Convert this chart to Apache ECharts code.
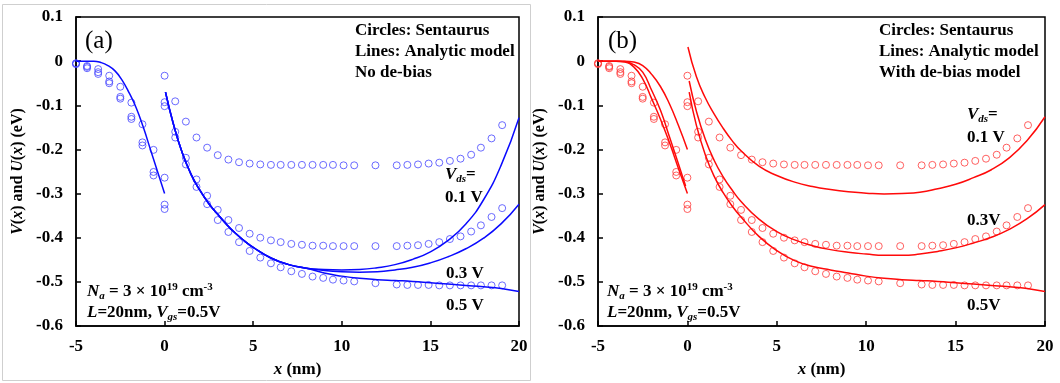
<!DOCTYPE html>
<html>
<head>
<meta charset="utf-8">
<script src="https://cdn.jsdelivr.net/npm/echarts/dist/echarts.min.js"></script>
<style>
html,body{margin:0;padding:0;background:#fff;}
#c{width:1060px;height:383px;}
</style>
</head>
<body>
<div id="c"></div>
<script>
// ---- Sentaurus (circles), source side ----
const srcX = [-5, -4.375, -3.75, -3.125, -2.5, -1.875, -1.25, -0.625, 0];
const circSrc01 = [-0.005, -0.011, -0.018, -0.033, -0.058, -0.094, -0.143, -0.201, -0.264];
const circSrc03 = [-0.005, -0.013, -0.025, -0.046, -0.081, -0.126, -0.184, -0.251, -0.325];
const circSrc05 = [-0.007, -0.016, -0.029, -0.050, -0.085, -0.131, -0.191, -0.259, -0.335];

// ---- Sentaurus (circles), drain side ----
const drainX = [0, 0.6, 1.2, 1.8, 2.4, 3.0, 3.6, 4.2, 4.8, 5.4, 6.0, 6.55, 7.15, 7.75, 8.35, 8.95, 9.5, 10.1, 10.7, 11.9, 13.1, 13.7, 14.3, 14.9, 15.5, 16.1, 16.7, 17.3, 17.85, 18.45, 19.05];
const circDrain01 = [-0.033, -0.091, -0.137, -0.173, -0.196, -0.213, -0.223, -0.229, -0.232, -0.234, -0.235, -0.235, -0.235, -0.235, -0.235, -0.235, -0.235, -0.236, -0.236, -0.236, -0.236, -0.235, -0.234, -0.232, -0.230, -0.226, -0.221, -0.212, -0.196, -0.175, -0.145];
const circDrain03 = [-0.093, -0.160, -0.219, -0.268, -0.305, -0.337, -0.360, -0.378, -0.391, -0.400, -0.406, -0.410, -0.414, -0.416, -0.418, -0.418, -0.419, -0.419, -0.419, -0.419, -0.419, -0.418, -0.417, -0.414, -0.410, -0.403, -0.397, -0.386, -0.372, -0.353, -0.333];
const circDrain05 = [-0.102, -0.173, -0.234, -0.285, -0.324, -0.360, -0.387, -0.410, -0.430, -0.445, -0.458, -0.467, -0.476, -0.482, -0.488, -0.491, -0.495, -0.497, -0.499, -0.503, -0.506, -0.507, -0.507, -0.507, -0.508, -0.508, -0.508, -0.508, -0.508, -0.508, -0.508];

// ---- Analytic model, panel (a): no de-bias ----
const aSrcLine = [[-5, 0], [-4.5, 0], [-4, 0], [-3.6, -0.003], [-3.2, -0.010], [-2.8, -0.022], [-2.4, -0.043], [-2, -0.072], [-1.6, -0.106], [-1.2, -0.150], [-0.8, -0.200], [-0.4, -0.250], [0, -0.300]];
const aDrainCommon = [[0.05, -0.070], [0.5, -0.143], [1, -0.208], [1.5, -0.257], [2, -0.293], [2.5, -0.323], [3, -0.347], [3.5, -0.370], [4, -0.390], [4.5, -0.407], [5, -0.422], [6, -0.446], [7, -0.461], [8, -0.469]];
const aTail01 = [[9, -0.472], [10, -0.473], [11, -0.472], [12, -0.468], [13, -0.461], [14, -0.449], [15, -0.432], [16, -0.406], [17, -0.369], [18, -0.314], [19, -0.235], [20, -0.128]];
const aTail03 = [[9, -0.474], [10, -0.477], [11, -0.478], [12, -0.477], [13, -0.473], [14, -0.467], [15, -0.457], [16, -0.443], [17, -0.425], [18, -0.401], [19, -0.368], [20, -0.324]];
const aTail05 = [[9, -0.480], [10, -0.487], [11, -0.492], [12, -0.495], [13, -0.497], [14, -0.499], [15, -0.502], [16, -0.505], [17, -0.508], [18, -0.511], [19, -0.515], [20, -0.522]];

// ---- Analytic model, panel (b): with de-bias ----
const bSrc01 = [[-5, 0], [-4, 0], [-3.5, 0], [-3, -0.002], [-2.5, -0.010], [-2, -0.030], [-1.5, -0.058], [-1, -0.097], [-0.5, -0.146], [0, -0.200]];
const bSrc03 = [[-5, 0], [-4, 0], [-3.5, -0.001], [-3, -0.008], [-2.5, -0.025], [-2, -0.066], [-1.5, -0.112], [-1, -0.172], [-0.5, -0.233], [-0.1, -0.283]];
const bSrc05 = [[-5, 0], [-4, 0], [-3.5, -0.002], [-3, -0.013], [-2.5, -0.040], [-2, -0.085], [-1.5, -0.132], [-1, -0.185], [-0.5, -0.243], [0, -0.300]];
const bDrain01 = [[0.03, 0.032], [0.5, -0.035], [1, -0.083], [1.5, -0.120], [2, -0.152], [2.5, -0.180], [3, -0.203], [4, -0.238], [5, -0.259], [6, -0.274], [7, -0.284], [8, -0.291], [9, -0.296], [10, -0.299], [11, -0.301], [12, -0.300], [13, -0.297], [14, -0.289], [15, -0.279], [16, -0.264], [17, -0.246], [18, -0.219], [19, -0.180], [20, -0.126]];
const bDrain03 = [[0.1, -0.045], [0.5, -0.113], [1, -0.177], [1.5, -0.225], [2, -0.262], [2.5, -0.292], [3, -0.318], [4, -0.358], [5, -0.386], [6, -0.405], [7, -0.418], [8, -0.427], [9, -0.433], [10, -0.437], [11, -0.440], [12, -0.440], [13, -0.437], [14, -0.431], [15, -0.423], [16, -0.412], [17, -0.399], [18, -0.381], [19, -0.357], [20, -0.325]];
const bDrain05 = [[0.1, -0.070], [0.5, -0.145], [1, -0.212], [1.5, -0.261], [2, -0.298], [2.5, -0.328], [3, -0.353], [4, -0.397], [5, -0.429], [6, -0.452], [7, -0.465], [8, -0.473], [9, -0.480], [10, -0.487], [11, -0.492], [12, -0.495], [13, -0.497], [14, -0.499], [15, -0.502], [16, -0.505], [17, -0.508], [18, -0.511], [19, -0.515], [20, -0.522]];

// ---- axis ticks ----
const xTicks = {min: -5, max: 20, interval: 5};
const yTicks = {min: -0.6, max: 0.1, interval: 0.1};

const FONT = 'Liberation Serif, Times New Roman, serif';
const BLUE_LINE = '#0a0aff', BLUE_CIRC = '#4646ff';
const RED_LINE = '#ff0a0a', RED_CIRC = '#ff3a3a';

const pair = (xs, ys) => xs.map((x, i) => [x, ys[i]]);

const rich = {
  b: {fontFamily: FONT, fontWeight: 'bold', fontSize: 17, color: '#000'},
  i: {fontFamily: FONT, fontWeight: 'bold', fontStyle: 'italic', fontSize: 17, color: '#000'},
  sub: {fontFamily: FONT, fontWeight: 'bold', fontStyle: 'italic', fontSize: 11, color: '#000', padding: [9, 0, 0, 0]},
  sup: {fontFamily: FONT, fontWeight: 'bold', fontSize: 11, color: '#000', padding: [0, 0, 8, 0]}
};
const richAxis = {
  b: {fontFamily: FONT, fontWeight: 'bold', fontSize: 16, color: '#000'},
  i: {fontFamily: FONT, fontWeight: 'bold', fontStyle: 'italic', fontSize: 16, color: '#000'}
};

function xAxisCfg(gi) {
  return {
    gridIndex: gi, type: 'value', min: xTicks.min, max: xTicks.max, interval: xTicks.interval,
    axisLine: {show: true, onZero: false, lineStyle: {color: '#000', width: 1.5}},
    axisTick: {show: true, inside: true, length: 5, lineStyle: {color: '#000', width: 1.5}},
    splitLine: {show: false},
    axisLabel: {fontFamily: FONT, fontWeight: 'bold', fontSize: 17, color: '#000', margin: 12},
    name: '{i|x}{b| (nm)}', nameLocation: 'middle', nameGap: 35,
    nameTextStyle: {rich: rich}
  };
}
function yAxisCfg(gi) {
  return {
    gridIndex: gi, type: 'value', min: yTicks.min, max: yTicks.max, interval: yTicks.interval,
    axisLine: {show: true, onZero: false, lineStyle: {color: '#000', width: 1.5}},
    axisTick: {show: true, inside: true, length: 5, lineStyle: {color: '#000', width: 1.5}},
    splitLine: {show: false},
    axisLabel: {fontFamily: FONT, fontWeight: 'bold', fontSize: 17, color: '#000', margin: 13,
      formatter: v => (Math.abs(v) < 1e-9 ? '0' : v.toFixed(1))},
    name: '{i|V}{b|(}{i|x}{b|) and }{i|U}{b|(}{i|x}{b|) (eV)}', nameLocation: 'middle', nameGap: 50, nameRotate: 90,
    nameTextStyle: {rich: richAxis}
  };
}

function circles(gi, data, color) {
  return {type: 'scatter', xAxisIndex: gi, yAxisIndex: gi, data: data, symbol: 'circle', symbolSize: 7,
    itemStyle: {color: 'rgba(0,0,0,0)', borderColor: color, borderWidth: 1}, silent: true, z: 3};
}
function line(gi, data, color) {
  return {type: 'line', xAxisIndex: gi, yAxisIndex: gi, data: data, showSymbol: false, smooth: 0.5,
    lineStyle: {color: color, width: 1.5}, silent: true, z: 4};
}

const series = [];
[0, 1].forEach(gi => {
  const cc = gi === 0 ? BLUE_CIRC : RED_CIRC;
  series.push(circles(gi, pair(srcX, circSrc01), cc));
  series.push(circles(gi, pair(srcX, circSrc03), cc));
  series.push(circles(gi, pair(srcX, circSrc05), cc));
  series.push(circles(gi, pair(drainX, circDrain01), cc));
  series.push(circles(gi, pair(drainX, circDrain03), cc));
  series.push(circles(gi, pair(drainX, circDrain05), cc));
});
series.push(line(0, aSrcLine, BLUE_LINE));
series.push(line(0, aDrainCommon.concat(aTail01), BLUE_LINE));
series.push(line(0, aDrainCommon.concat(aTail03), BLUE_LINE));
series.push(line(0, aDrainCommon.concat(aTail05), BLUE_LINE));
[bSrc01, bSrc03, bSrc05, bDrain01, bDrain03, bDrain05].forEach(d => series.push(line(1, d, RED_LINE)));

function txt(left, top, text) {
  return {type: 'text', left: left, top: top, z: 10, silent: true,
    style: {text: text, rich: rich, fill: '#000', lineHeight: 21, font: 'bold 17px ' + FONT}};
}

const graphic = [
  {type: 'rect', left: 0, top: 2, shape: {width: 528, height: 376}, style: {fill: 'none', stroke: '#cfcfcf', lineWidth: 1}, silent: true, z: 0},
  // panel (a)
  {type: 'text', left: 85, top: 29, silent: true, z: 10, style: {text: '(a)', font: '25px ' + FONT, fill: '#000'}},
  txt(355, 20, '{b|Circles: Sentaurus}\n{b|Lines: Analytic model}\n{b|No de-bias}'),
  txt(445, 164, '{i|V}{sub|ds}{b|=}'),
  txt(445, 187, '{b|0.1 V}'),
  txt(446, 263, '{b|0.3 V}'),
  txt(446, 295, '{b|0.5 V}'),
  txt(87, 281, '{i|N}{sub|a}{b| = 3 × 10}{sup|19}{b| cm}{sup|-3}'),
  txt(87, 302, '{i|L}{b|=20nm, }{i|V}{sub|gs}{b|=0.5V}'),
  // panel (b)
  {type: 'text', left: 608, top: 29, silent: true, z: 10, style: {text: '(b)', font: '25px ' + FONT, fill: '#000'}},
  txt(879, 20, '{b|Circles: Sentaurus}\n{b|Lines: Analytic model}\n{b|With de-bias model}'),
  txt(967, 104, '{i|V}{sub|ds}{b|=}'),
  txt(967, 127, '{b|0.1 V}'),
  txt(967, 210, '{b|0.3V}'),
  txt(967, 295, '{b|0.5V}'),
  txt(607, 281, '{i|N}{sub|a}{b| = 3 × 10}{sup|19}{b| cm}{sup|-3}'),
  txt(607, 302, '{i|L}{b|=20nm, }{i|V}{sub|gs}{b|=0.5V}')
];

const chart = echarts.init(document.getElementById('c'), null, {renderer: 'canvas'});
chart.setOption({
  backgroundColor: '#fff',
  animation: false,
  grid: [
    {left: 76, top: 17, width: 443, height: 313, show: true, borderColor: '#000', borderWidth: 1.5, backgroundColor: 'transparent'},
    {left: 598, top: 17, width: 447, height: 313, show: true, borderColor: '#000', borderWidth: 1.5, backgroundColor: 'transparent'}
  ],
  xAxis: [xAxisCfg(0), xAxisCfg(1)],
  yAxis: [yAxisCfg(0), yAxisCfg(1)],
  series: series,
  graphic: graphic
});
</script>
</body>
</html>
